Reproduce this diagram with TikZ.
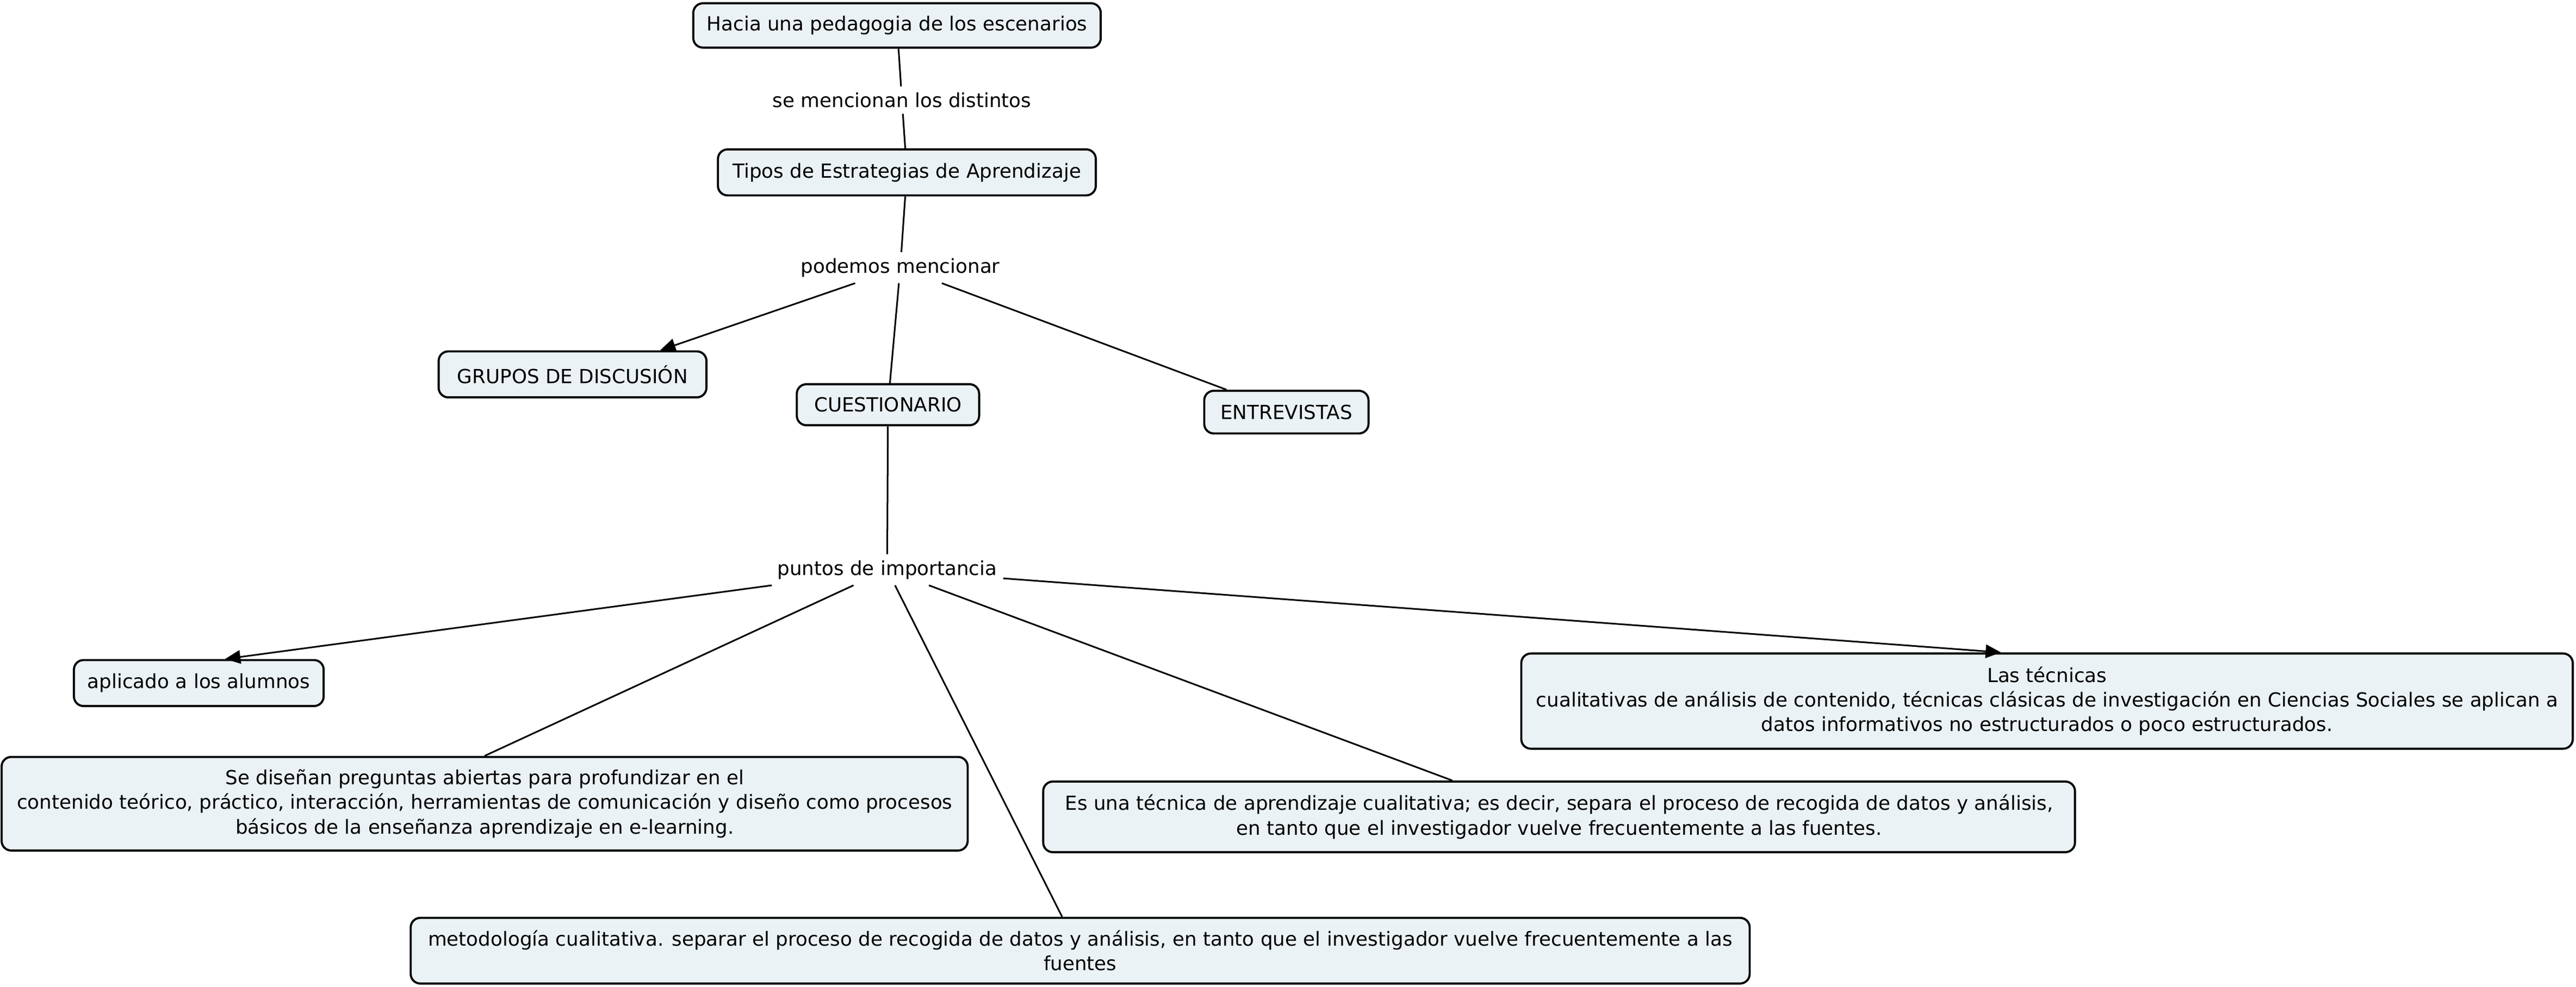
\documentclass[tikz,border=0pt]{standalone}
\usepackage{fontspec}
\setmainfont{DejaVu Sans}
\usetikzlibrary{arrows.meta}
\definecolor{boxfill}{RGB}{235,242,245}
\begin{document}
\begin{tikzpicture}[x=0.03cm,y=-0.03cm,
 concept/.style={draw=black, line width=1.1pt, rounded corners=5pt, fill=boxfill, align=center, font=\fontsize{10.1}{12.8}\selectfont, inner sep=0pt},
 linklabel/.style={font=\fontsize{10.1}{12}\selectfont, inner sep=3pt},
 conn/.style={line width=0.85pt},
 arr/.style={conn, -{Triangle[length=8pt,width=7pt]}}]
\useasboundingbox (0,0) rectangle (1568,601);
% concepts
\node[concept, minimum width=7.44cm, minimum height=0.81cm] (hacia) at (546,15.5) {Hacia una pedagogia de los escenarios};
\node[concept, minimum width=6.9cm, minimum height=0.84cm] (tipos) at (552,105) {Tipos de Estrategias de Aprendizaje};
\node[concept, minimum width=4.89cm, minimum height=0.84cm] (grupos) at (348.5,228) {GRUPOS DE DISCUSIÓN};
\node[concept, minimum width=3.33cm, minimum height=0.75cm] (cuest) at (540.5,246.5) {CUESTIONARIO};
\node[concept, minimum width=3.0cm, minimum height=0.78cm] (entrev) at (783,251) {ENTREVISTAS};
\node[concept, minimum width=4.56cm, minimum height=0.84cm] (aplic) at (121,416) {aplicado a los alumnos};
\node[concept, minimum width=17.64cm, minimum height=1.71cm] (disen) at (295,489.5) {Se diseñan preguntas abiertas para profundizar en el\\contenido teórico, práctico, interacción, herramientas de comunicación y diseño como procesos\\básicos de la enseñanza aprendizaje en e-learning.};
\node[concept, minimum width=19.2cm, minimum height=1.74cm] (tecn) at (1246,427) {Las técnicas\\cualitativas de análisis de contenido, técnicas clásicas de investigación en Ciencias Sociales se aplican a\\datos informativos no estructurados o poco estructurados.};
\node[concept, minimum width=18.84cm, minimum height=1.29cm] (esuna) at (949,497.5) {Es una técnica de aprendizaje cualitativa; es decir, separa el proceso de recogida de datos y análisis,\\en tanto que el investigador vuelve frecuentemente a las fuentes.};
\node[concept, minimum width=24.45cm, minimum height=1.2cm] (metod) at (657.5,579) {metodología cualitativa. separar el proceso de recogida de datos y análisis, en tanto que el investigador vuelve frecuentemente a las\\fuentes};
% linking phrases
\node[linklabel] (semen) at (549,61) {se mencionan los distintos};
\node[linklabel] (podemos) at (548,163) {podemos mencionar};
\node[linklabel] (puntos) at (540,347) {puntos de importancia};
% connectors
\draw[conn] (hacia) -- (semen);
\draw[conn] (semen) -- (tipos);
\draw[conn] (tipos) -- (podemos);
\draw[arr] (podemos) -- ([xshift=1.6cm]grupos.north);
\draw[conn] (podemos) -- (cuest);
\draw[conn] (podemos) -- (entrev);
\draw[conn] (cuest) -- (puntos);
\draw[arr] (puntos) -- ([xshift=0.48cm]aplic.north);
\draw[conn] (puntos) -- (disen.north);
\draw[conn] (puntos) -- ([xshift=-0.33cm]metod.north);
\draw[conn] (puntos) -- ([xshift=-1.95cm]esuna.north);
\draw[arr] (puntos) -- ([xshift=-0.84cm]tecn.north);
\end{tikzpicture}
\end{document}
